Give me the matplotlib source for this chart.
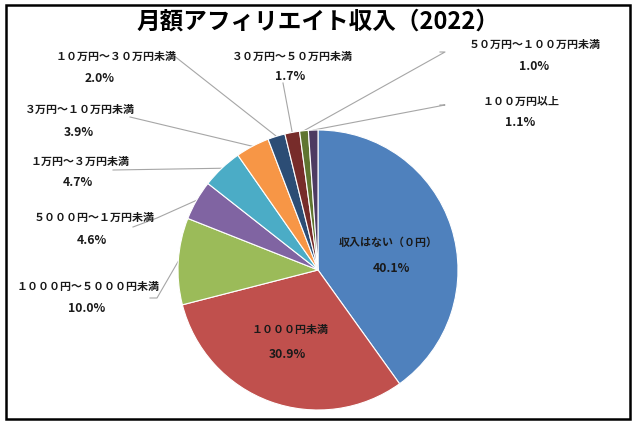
import numpy as np
import matplotlib
matplotlib.use("Agg")
import matplotlib.pyplot as plt
from matplotlib.patches import Rectangle

plt.rcParams['font.family'] = ['Noto Sans CJK JP', 'DejaVu Sans']

# --------------------------------------------------
# Data (clockwise from 12 o'clock)
# --------------------------------------------------
categories = [
    "収入はない（０円）", "１０００円未満", "１０００円～５０００円未満",
    "５０００円～１万円未満", "１万円～３万円未満", "３万円～１０万円未満",
    "１０万円～３０万円未満", "３０万円～５０万円未満",
    "５０万円～１００万円未満", "１００万円以上",
]
shares = [40.1, 30.9, 10.0, 4.6, 4.7, 3.9, 2.0, 1.7, 1.0, 1.1]
colors = ["#4F81BD", "#C0504D", "#9BBB59", "#8064A2", "#4BACC6",
          "#F79646", "#2C4D75", "#772C2A", "#5F7530", "#4D3B62"]

# --------------------------------------------------
# Layout in pixel coordinates (y measured from top)
# --------------------------------------------------
W, H = 636, 424
cx, cy, R = 318, 270, 140

def Y(y):
    return H - y

# label text centre (name), percentage centre, leader start points
label_pos = {
    0: ((388, 243), (391, 268), None),
    1: ((290, 330), (287, 354), None),
    2: ((88, 287), (87, 309), [(150, 298), (157, 298)]),
    3: ((94, 218), (92, 240), [(133, 227), (157, 218)]),
    4: ((80, 162), (78, 183), [(113, 170)]),
    5: ((80, 110), (79, 132), [(130, 117)]),
    6: ((116, 57), (100, 78), [(173, 55)]),
    7: ((292, 57), (290, 76), [(283, 83)]),
    8: ((535, 45), (534, 67), [(440, 52), (445, 52)]),
    9: ((521, 102), (520, 123), [(440, 105), (445, 105)]),
}

fig = plt.figure(figsize=(W / 100, H / 100), dpi=100)
ax = fig.add_axes([0, 0, 1, 1])

wedges, _ = ax.pie(
    shares,
    colors=colors,
    startangle=90,
    counterclock=False,
    center=(cx, Y(cy)),
    radius=R,
    wedgeprops=dict(edgecolor="white", linewidth=0.8),
)

ax.set_xlim(0, W)
ax.set_ylim(0, H)
ax.set_aspect("equal")
ax.axis("off")

# --------------------------------------------------
# Labels and leader lines
# --------------------------------------------------
for i, w in enumerate(wedges):
    (nx, ny), (px, py), lead = label_pos[i]
    ax.text(nx, Y(ny), categories[i], ha="center", va="center",
            fontsize=7.9, fontweight="bold", color="#1a1a1a")
    ax.text(px, Y(py), f"{shares[i]:.1f}%", ha="center", va="center",
            fontsize=8.8, fontweight="bold", color="#1a1a1a")
    if lead:
        mid = np.deg2rad((w.theta1 + w.theta2) / 2)
        ex = cx + R * np.cos(mid)
        ey = Y(cy) + R * np.sin(mid)
        xs = [p[0] for p in lead] + [ex]
        ys = [Y(p[1]) for p in lead] + [ey]
        ax.plot(xs, ys, color="#a6a6a6", linewidth=0.8, zorder=0)

# Title
ax.text(W / 2, Y(22), "月額アフィリエイト収入（2022）", ha="center", va="center",
        fontsize=17, fontweight="bold", color="black")

# Frame
ax.add_patch(Rectangle((6, Y(419)), 624, 414, fill=False,
                       edgecolor="black", linewidth=1.8))

fig.savefig("out.png", dpi=100)
